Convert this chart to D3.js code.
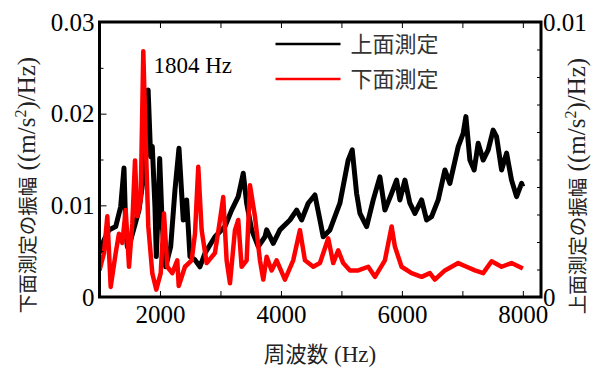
<!DOCTYPE html>
<html>
<head>
<meta charset="utf-8">
<script src="https://cdn.jsdelivr.net/npm/d3@7/dist/d3.min.js"></script>
<style>
  body { margin: 0; background: #fff; }
  text { font-family: "Liberation Serif", "Times New Roman", "Noto Sans CJK JP", serif; }
</style>
</head>
<body>
<div id="chart"></div>
<script>
// 上面測定 (right axis)
var freqTop = [1000, 1074, 1157, 1268, 1350, 1405, 1433, 1460, 1516, 1653, 1736, 1804, 1846, 1873, 1917,
  1939, 1972, 1995, 2038, 2094, 2177, 2248, 2314, 2385, 2441, 2496, 2579, 2661, 2744, 2909, 3074,
  3185, 3294, 3377, 3433, 3516, 3625, 3736, 3764, 3873, 3983, 4149, 4260, 4342, 4451, 4562, 4645,
  4699, 4810, 4975, 5112, 5179, 5251, 5306, 5417, 5526, 5636, 5719, 5830, 5912, 5967, 6050, 6132,
  6215, 6326, 6408, 6491, 6600, 6711, 6793, 6931, 7013, 7058, 7124, 7195, 7261, 7344, 7427, 7509,
  7565, 7648, 7731, 7813, 7896, 7979, 8000];
var ampTop = [0.0016, 0.00207, 0.00244, 0.00256, 0.00328, 0.00469, 0.00256, 0.00183, 0.00207, 0.00316, 0.00451, 0.00753, 0.0051, 0.00547, 0.00328,
  0.00147, 0.00328, 0.00504, 0.00256, 0.0011, 0.00183, 0.00389, 0.00541, 0.0028, 0.00353, 0.00147, 0.00135, 0.0011, 0.00159, 0.00219, 0.00256,
  0.00316, 0.00365, 0.0045, 0.00341, 0.00244, 0.00183, 0.00219, 0.00244, 0.00195, 0.00244, 0.0028, 0.00316, 0.0028, 0.00341, 0.00371, 0.0028,
  0.00219, 0.00244, 0.00341, 0.00498, 0.00535, 0.00377, 0.00304, 0.00256, 0.00353, 0.00437, 0.00316, 0.00377, 0.00425, 0.00353, 0.00425, 0.00341,
  0.00304, 0.00353, 0.0028, 0.00292, 0.00353, 0.00462, 0.00413, 0.00547, 0.00595, 0.00656, 0.00498, 0.00462, 0.00559, 0.00498, 0.00535, 0.00607,
  0.00583, 0.00462, 0.00523, 0.00425, 0.00365, 0.00413, 0.00401];

// 下面測定 (left axis)
var freqBottom = [1000, 1074, 1129, 1185, 1268, 1322, 1377, 1433, 1488, 1542, 1587, 1625, 1681, 1724, 1764,
  1807, 1873, 1939, 2012, 2066, 2121, 2203, 2286, 2310, 2413, 2524, 2579, 2633, 2689, 2772, 2909,
  2992, 3046, 3102, 3157, 3240, 3294, 3350, 3433, 3488, 3570, 3653, 3708, 3764, 3846, 3929, 4066,
  4203, 4314, 4397, 4534, 4645, 4782, 4864, 4947, 5030, 5141, 5278, 5443, 5554, 5719, 5830, 5884,
  5995, 6160, 6326, 6463, 6545, 6711, 6931, 7069, 7207, 7344, 7483, 7648, 7813, 8000];
var ampBottom = [0.0029, 0.0048, 0.0088, 0.0011, 0.0048, 0.0069, 0.0059, 0.0095, 0.0033, 0.008, 0.0149, 0.0088, 0.0106, 0.0268, 0.0171,
  0.0077, 0.0026, 0.0008, 0.0026, 0.0091, 0.0033, 0.0026, 0.004, 0.0012, 0.0033, 0.004, 0.0069, 0.0142, 0.0073, 0.0037, 0.0048,
  0.0084, 0.0109, 0.004, 0.0015, 0.0073, 0.0084, 0.0033, 0.004, 0.0122, 0.0088, 0.004, 0.0019, 0.0044, 0.0029, 0.004, 0.0019,
  0.004, 0.0073, 0.004, 0.0033, 0.0037, 0.0064, 0.0037, 0.0051, 0.0037, 0.0029, 0.0029, 0.0033, 0.0022, 0.004, 0.0077, 0.0055,
  0.0033, 0.0026, 0.0022, 0.0026, 0.0019, 0.0029, 0.0037, 0.0033, 0.0029, 0.0026, 0.0039, 0.0033, 0.0037, 0.0031];

var xTicks = [1000, 2000, 3000, 4000, 5000, 6000, 7000, 8000];
var xLabels = [2000, 4000, 6000, 8000];
var leftTicks = [0, 0.01, 0.02, 0.03];
var leftMinor = [0.005, 0.015, 0.025];
var rightTicks = [0, 0.01];
var rightMinor = [0.001, 0.002, 0.003, 0.004, 0.005, 0.006, 0.007, 0.008, 0.009];
var legendLabels = ["上面測定", "下面測定"];
var seriesColors = ["#000000", "#ff0000"];
var peakLabel = "1804 Hz";

var svgWidth = 595, svgHeight = 370;
var margin = { top: 22, left: 99.5, right: 54, bottom: 73 };
var width = svgWidth - margin.left - margin.right;
var height = svgHeight - margin.top - margin.bottom;

var svg = d3.select("#chart").append("svg")
  .attr("width", svgWidth)
  .attr("height", svgHeight);

var chartGroup = svg.append("g")
  .attr("transform", `translate(${margin.left}, ${margin.top})`);

var xScale = d3.scaleLinear().domain([1000, 8300]).range([0, width]);
var yLeft = d3.scaleLinear().domain([0, 0.03]).range([height, 0]);
var yRight = d3.scaleLinear().domain([0, 0.01]).range([height, 0]);

chartGroup.append("defs").append("clipPath").attr("id", "clip")
  .append("rect").attr("width", width).attr("height", height);

// lines
var lineTop = d3.line()
  .x(function(d, i) { return xScale(freqTop[i]); })
  .y(function(d) { return yRight(d); });
var lineBottom = d3.line()
  .x(function(d, i) { return xScale(freqBottom[i]); })
  .y(function(d) { return yLeft(d); });

var plot = chartGroup.append("g").attr("clip-path", "url(#clip)");
plot.append("path")
  .datum(ampTop)
  .attr("d", lineTop)
  .attr("fill", "none")
  .attr("stroke", seriesColors[0])
  .attr("stroke-width", 5)
  .attr("stroke-linejoin", "round");
plot.append("path")
  .datum(ampBottom)
  .attr("d", lineBottom)
  .attr("fill", "none")
  .attr("stroke", seriesColors[1])
  .attr("stroke-width", 4.5)
  .attr("stroke-linejoin", "round");

// axes (ticks point inward)
function styleAxis(g) {
  g.attr("font-family", null);
  g.select(".domain").remove();
  g.selectAll(".tick line").attr("stroke", "#000").attr("stroke-width", 1);
  g.selectAll(".tick text").attr("font-size", "25px").attr("fill", "#000")
    .attr("font-family", "Liberation Serif, Times New Roman, serif");
}

chartGroup.append("g")
  .attr("transform", `translate(0, ${height})`)
  .call(d3.axisBottom(xScale).tickValues(xTicks).tickSize(-6).tickPadding(8)
    .tickFormat(function(d) { return xLabels.indexOf(d) >= 0 ? d : ""; }))
  .call(styleAxis);

chartGroup.append("g")
  .call(d3.axisTop(xScale).tickValues(xTicks).tickSize(-6).tickFormat(""))
  .call(styleAxis);

chartGroup.append("g")
  .call(d3.axisLeft(yLeft).tickValues(leftTicks).tickSize(-7).tickPadding(5)
    .tickFormat(function(d) { return d === 0 ? "0" : d3.format(".2f")(d); }))
  .call(styleAxis);
chartGroup.append("g")
  .call(d3.axisLeft(yLeft).tickValues(leftMinor).tickSize(-4).tickFormat(""))
  .call(styleAxis);

chartGroup.append("g")
  .attr("transform", `translate(${width}, 0)`)
  .call(d3.axisRight(yRight).tickValues(rightTicks).tickSize(-7).tickPadding(2)
    .tickFormat(function(d) { return d === 0 ? "0" : d3.format(".2f")(d); }))
  .call(styleAxis);
chartGroup.append("g")
  .attr("transform", `translate(${width}, 0)`)
  .call(d3.axisRight(yRight).tickValues(rightMinor).tickSize(-4).tickFormat(""))
  .call(styleAxis);

// frame
chartGroup.append("rect")
  .attr("width", width)
  .attr("height", height)
  .attr("fill", "none")
  .attr("stroke", "#000")
  .attr("stroke-width", 3);

// legend
var legend = chartGroup.append("g").attr("transform", "translate(176, 22)");
legendLabels.forEach(function(label, i) {
  legend.append("line")
    .attr("x1", 0).attr("x2", 65)
    .attr("y1", i * 35).attr("y2", i * 35)
    .attr("stroke", seriesColors[i])
    .attr("stroke-width", 2.5);
  legend.append("text")
    .attr("x", 75).attr("y", i * 35)
    .attr("dy", "0.35em")
    .attr("font-size", "22px")
    .attr("fill", "#333")
    .style("font-family", "Noto Sans CJK JP")
    .text(label);
});

// peak annotation
chartGroup.append("text")
  .attr("x", 54)
  .attr("y", 51)
  .attr("font-size", "23px")
  .attr("fill", "#000")
  .text(peakLabel);

// axis titles
function axisTitle(x, y, prefix) {
  var t = svg.append("text")
    .attr("transform", `translate(${x}, ${y}) rotate(-90)`)
    .attr("text-anchor", "middle")
    .attr("font-size", "25px")
    .attr("fill", "#222");
  t.append("tspan").attr("font-size", "19.5px").style("font-family", "Noto Sans CJK JP").text(prefix);
  t.append("tspan").text(" ((m/s");
  t.append("tspan").attr("dy", -9).attr("font-size", "16px").text("2");
  t.append("tspan").attr("dy", 9).text(")/Hz)");
}
axisTitle(35, 185, "下面測定の振幅");
axisTitle(585, 186, "上面測定の振幅");

var xTitle = svg.append("text")
  .attr("x", 320)
  .attr("y", 362)
  .attr("text-anchor", "middle")
  .attr("font-size", "23px")
  .attr("fill", "#222");
xTitle.append("tspan").attr("font-size", "21.5px").style("font-family", "Noto Sans CJK JP").text("周波数");
xTitle.append("tspan").text(" (Hz)");
</script>
</body>
</html>
